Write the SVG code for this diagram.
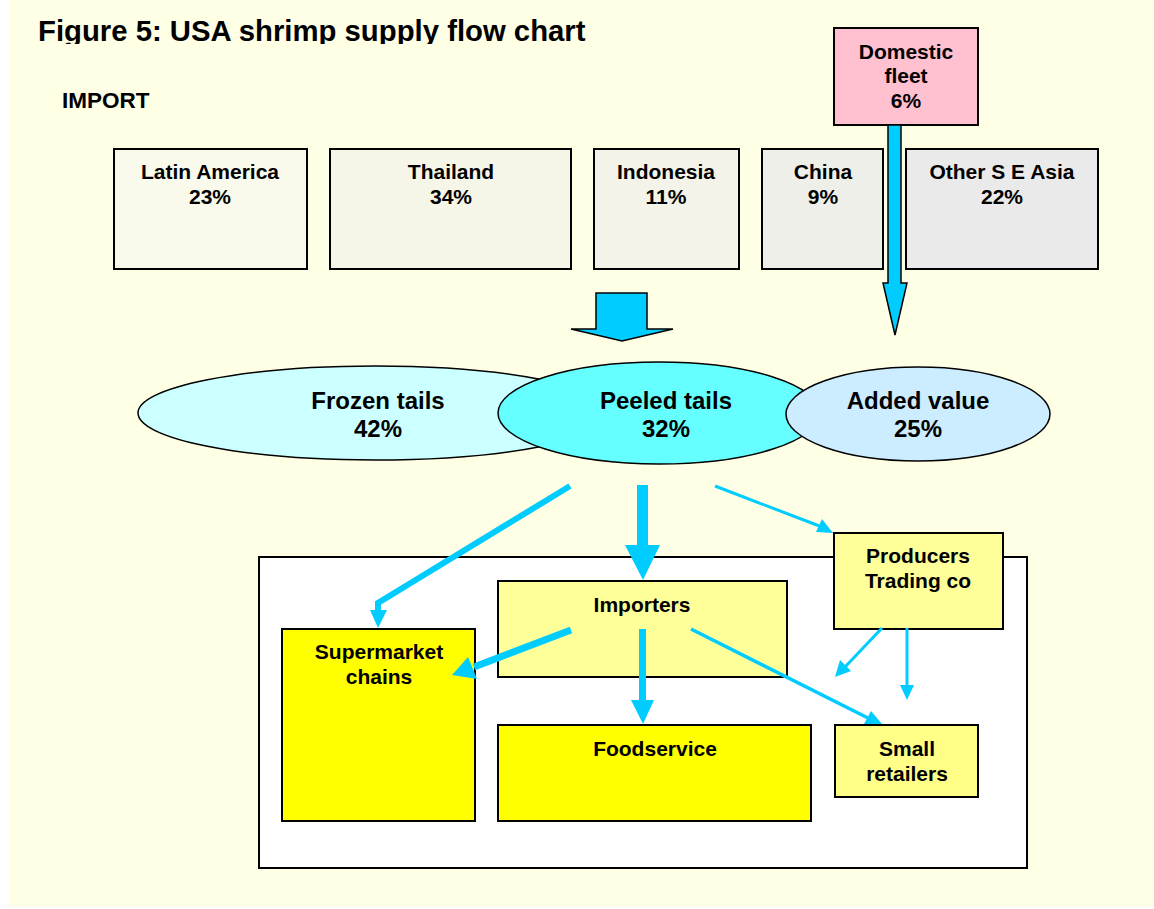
<svg xmlns="http://www.w3.org/2000/svg" width="1154" height="909" viewBox="0 0 1154 909">
<style>
text{font-family:"Liberation Sans",Arial,sans-serif;font-weight:bold;fill:#000;text-anchor:middle}
.t21{font-size:21px}
.t24{font-size:24px}
.box{stroke:#000;stroke-width:2}
.ell{stroke:#000;stroke-width:1.5}
.blue{fill:#00CCFF}
.bl{stroke:#00CCFF;fill:none;stroke-linecap:butt}
.outl{fill:#00CCFF;stroke:#000;stroke-width:1.5;stroke-linejoin:miter}
</style>
<defs>
<clipPath id="titleclip"><rect x="0" y="0" width="1154" height="44"/></clipPath>
</defs>
<rect x="9" y="0" width="1145" height="907" fill="#FFFFE5"/>
<text x="38" y="41" style="font-size:29.3px;text-anchor:start" clip-path="url(#titleclip)">Figure 5: USA shrimp supply flow chart</text>
<text x="62" y="108" style="font-size:22.5px;text-anchor:start">IMPORT</text>

<g id="latin-america">
<rect class="box" x="114" y="149" width="193" height="120" fill="#F9F9EC"/>
<text class="t21" x="210" y="179">Latin America</text>
<text class="t21" x="210" y="204">23%</text>
</g>
<g id="thailand">
<rect class="box" x="330" y="149" width="241" height="120" fill="#F5F5E8"/>
<text class="t21" x="451" y="179">Thailand</text>
<text class="t21" x="451" y="204">34%</text>
</g>
<g id="indonesia">
<rect class="box" x="594" y="149" width="145" height="120" fill="#F3F3E9"/>
<text class="t21" x="666" y="179">Indonesia</text>
<text class="t21" x="666" y="204">11%</text>
</g>
<g id="china">
<rect class="box" x="762" y="149" width="121" height="120" fill="#EFEFE9"/>
<text class="t21" x="823" y="179">China</text>
<text class="t21" x="823" y="204">9%</text>
</g>
<g id="other-se-asia">
<rect class="box" x="906" y="149" width="192" height="120" fill="#EAEAEA"/>
<text class="t21" x="1002" y="179">Other S E Asia</text>
<text class="t21" x="1002" y="204">22%</text>
</g>
<g id="domestic-fleet">
<rect class="box" x="834" y="28" width="144" height="97" fill="#FFC0D0"/>
<text class="t21" x="906" y="59">Domestic</text>
<text class="t21" x="906" y="83">fleet</text>
<text class="t21" x="906" y="108">6%</text>
</g>

<g id="import-arrows">
<polygon class="outl" points="888,125 901,125 901,283 907,283 895,335 883,283 888,283"/>
<polygon class="outl" points="596,293 647,293 647,329 673,329 622,341 571,329 596,329"/>
</g>

<g id="frozen-tails">
<ellipse class="ell" cx="375" cy="413" rx="237" ry="47" fill="#CCFFFF"/>
<text class="t24" x="378" y="409">Frozen tails</text>
<text class="t24" x="378" y="437">42%</text>
</g>
<g id="peeled-tails">
<ellipse class="ell" cx="659" cy="413" rx="161" ry="51" fill="#66FFFF"/>
<text class="t24" x="666" y="409">Peeled tails</text>
<text class="t24" x="666" y="437">32%</text>
</g>
<g id="added-value">
<ellipse class="ell" cx="918" cy="414" rx="132" ry="47" fill="#CCECFF"/>
<text class="t24" x="918" y="409">Added value</text>
<text class="t24" x="918" y="437">25%</text>
</g>

<g id="distribution">
<rect class="box" x="259" y="557" width="768" height="311" fill="#FFFFFF"/>
</g>
<g id="supermarket-chains">
<rect class="box" x="282" y="629" width="193" height="192" fill="#FFFF00"/>
<text class="t21" x="379" y="659">Supermarket</text>
<text class="t21" x="379" y="684">chains</text>
</g>
<g id="importers">
<rect class="box" x="498" y="581" width="289" height="96" fill="#FFFF99"/>
<text class="t21" x="642" y="612">Importers</text>
</g>
<g id="foodservice">
<rect class="box" x="498" y="725" width="313" height="96" fill="#FFFF00"/>
<text class="t21" x="655" y="756">Foodservice</text>
</g>
<g id="small-retailers">
<rect class="box" x="835" y="725" width="143" height="72" fill="#FFFF88"/>
<text class="t21" x="907" y="756">Small</text>
<text class="t21" x="907" y="781">retailers</text>
</g>
<g id="producers-trading">
<rect class="box" x="834" y="533" width="169" height="96" fill="#FFFF99"/>
<text class="t21" x="918" y="563">Producers</text>
<text class="t21" x="918" y="588">Trading co</text>
</g>

<g id="connectors">
<polyline class="bl" stroke-width="6" points="570,486 378,603 378,612"/>
<polygon class="blue" points="370,610 387,610 378,628"/>
<line class="bl" stroke-width="11" x1="642.5" y1="485" x2="642.5" y2="546"/>
<polygon class="blue" points="625,545 660,545 643,580"/>
<line class="bl" stroke-width="3" x1="715" y1="486" x2="822" y2="527"/>
<polygon class="blue" points="833,533 816,532 822,519"/>
<line class="bl" stroke-width="7" x1="571" y1="630" x2="474" y2="667"/>
<polygon class="blue" points="452,675 468,657 477,679"/>
<line class="bl" stroke-width="7" x1="642.5" y1="629" x2="642.5" y2="702"/>
<polygon class="blue" points="631,700 654,700 643,724"/>
<line class="bl" stroke-width="3.5" x1="691" y1="629" x2="868" y2="718"/>
<polygon class="blue" points="882,724 864,724 871,711"/>
<line class="bl" stroke-width="3" x1="882" y1="628" x2="845" y2="667"/>
<polygon class="blue" points="835,677 840,660 851,671"/>
<line class="bl" stroke-width="3" x1="907" y1="628" x2="907" y2="686"/>
<polygon class="blue" points="900,685 914,685 907,700"/>
</g>
</svg>
